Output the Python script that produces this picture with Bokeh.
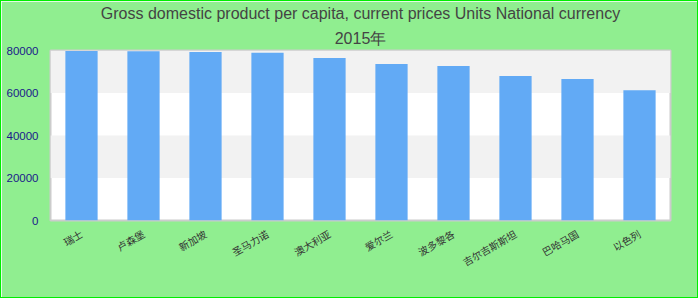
import math
from bokeh.plotting import figure
from bokeh.models import FactorRange, Range1d, FixedTicker, NumeralTickFormatter, Title
from bokeh.embed import file_html
from bokeh.resources import INLINE

title_line1 = "Gross domestic product per capita, current prices Units National currency"
title_line2 = "2015年"
categories = ["瑞士", "卢森堡", "新加坡", "圣马力诺", "澳大利亚", "爱尔兰", "波多黎各", "吉尔吉斯斯坦", "巴哈马国", "以色列"]
values = [79800, 79700, 79350, 78900, 76500, 73650, 72700, 67950, 66550, 61300]
y_ticks = [0, 20000, 40000, 60000, 80000]

p = figure(x_range=FactorRange(*categories, range_padding=0),
           y_range=Range1d(0, 80000),
           width=698, height=298,
           output_backend="svg", toolbar_location=None,
           min_border_left=49, min_border_right=29, min_border_bottom=79, min_border_top=0)
p.styles = {"border": "1px solid #00ee00"}

p.vbar(x=categories, top=values, width=0.52, color="#62aaf5", line_color=None)

p.background_fill_color = "white"
p.border_fill_color = "#90ee90"
p.outline_line_color = "#cccccc"
p.outline_line_width = 2

p.xgrid.grid_line_color = None
p.ygrid.grid_line_color = None
p.ygrid.band_fill_color = "#f2f2f2"
p.ygrid.band_fill_alpha = 1

p.yaxis.ticker = FixedTicker(ticks=y_ticks)
p.yaxis.formatter = NumeralTickFormatter(format="0")
p.yaxis.axis_line_color = None
p.yaxis.major_tick_line_color = None
p.yaxis.minor_tick_line_color = None
p.yaxis.major_tick_out = 0
p.yaxis.major_label_standoff = 12
p.yaxis.major_label_text_color = "#1a1a8a"
p.yaxis.major_label_text_font = "Liberation Sans"
p.yaxis.major_label_text_font_size = "11.5px"

p.xaxis.axis_line_color = None
p.xaxis.major_tick_line_color = None
p.xaxis.major_tick_out = 0
p.xaxis.major_label_standoff = 12
p.xaxis.major_label_orientation = math.pi / 6
p.xaxis.major_label_text_color = "#333333"
p.xaxis.major_label_text_font = "Noto Sans CJK SC"
p.xaxis.major_label_text_font_size = "10px"

p.add_layout(Title(text=title_line2, align="center", text_font="Liberation Sans",
                   text_font_size="16px", text_font_style="normal", text_color="#444444",
                   standoff=8), "above")
p.add_layout(Title(text=title_line1, align="center", text_font="Liberation Sans",
                   text_font_size="16px", text_font_style="normal", text_color="#444444",
                   standoff=3), "above")

open("out.html", "w").write(file_html(p, INLINE))
